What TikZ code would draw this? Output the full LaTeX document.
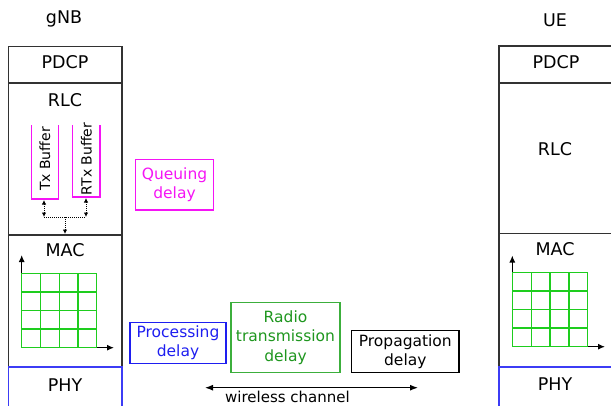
\documentclass[tikz,border=0pt]{standalone}
\usepackage{fontspec}
\setmainfont{DejaVu Sans}
\usetikzlibrary{arrows.meta}
\definecolor{stackgray}{RGB}{50,50,50}
\definecolor{phyblue}{RGB}{60,60,245}
\definecolor{procblue}{RGB}{30,30,240}
\definecolor{mag}{RGB}{245,20,245}
\definecolor{gridgreen}{RGB}{30,205,30}
\definecolor{radiogreen}{RGB}{60,175,60}
\definecolor{radiotext}{RGB}{30,150,30}
\tikzset{
  layerbox/.style={draw=stackgray, line width=1.4pt},
  phybox/.style={draw=phyblue, line width=1.4pt},
  lbl/.style={font=\fontsize{17.5}{20}\selectfont, anchor=base, inner sep=0pt},
  dlbox/.style={line width=1.3pt, align=center, inner sep=0pt, font=\fontsize{15.5}{19.5}\selectfont},
  buf/.style={draw=mag, line width=1.3pt},
  buftext/.style={font=\fontsize{14}{16}\selectfont, rotate=90, inner sep=0pt},
  dotarrow/.style={densely dotted, line width=1pt, {Latex[length=4.5pt,width=4.5pt]}-{Latex[length=4.5pt,width=4.5pt]}},
  axisarrow/.style={line width=1.2pt, -{Latex[length=7pt,width=6pt]}},
  gridline/.style={draw=gridgreen, line width=1.3pt},
}
\begin{document}
\begin{tikzpicture}[x=1pt,y=-1pt]
\useasboundingbox (0,0) rectangle (611,405);
\clip (0,0) rectangle (611,405);
% ---------- gNB stack ----------
\node[lbl] (gnb) at (64,23.3) {gNB};
\draw[layerbox] (8.3,46.5) rectangle (122,83);
\draw[layerbox] (8.3,83) rectangle (122,235);
\draw[layerbox] (8.3,235) rectangle (122,367);
\draw[phybox] (8.3,367) rectangle (122,412);
\node[lbl] (gpdcp) at (65,68.3) {PDCP};
\node[lbl] (grlc) at (65,106) {RLC};
\node[lbl] (gmac) at (65,256) {MAC};
\node[lbl] (gphy) at (65,391.5) {PHY};
% buffers
\draw[buf] (31.7,125) -- (31.7,199) -- (58.3,199) -- (58.3,125);
\draw[buf] (72.7,125) -- (72.7,197) -- (100,197) -- (100,125);
\node[buftext] (txb) at (45,159) {Tx Buffer};
\node[buftext] (rtxb) at (86.3,159) {RTx Buffer};
\coordinate (txbot) at (44,200);
\coordinate (rtxbot) at (86,198);
\coordinate (txj) at (44,217);
\coordinate (rtxj) at (86,217);
\coordinate (midj) at (65,217);
\coordinate (macin) at (65,234);
\draw[dotarrow] (txbot) -- (txj);
\draw[dotarrow] (rtxbot) -- (rtxj);
\draw[densely dotted, line width=1pt] (txj) -- (rtxj);
\draw[densely dotted, line width=1pt, -{Latex[length=4.5pt,width=4.5pt]}] (midj) -- (macin);
% gNB grid
\coordinate (go) at (21.7,347.7);
\coordinate (gy) at (21.7,255);
\coordinate (gx) at (114,347.7);
\draw[axisarrow] (go) -- (gy);
\draw[axisarrow] (go) -- (gx);
\foreach \i in {0,...,4} {
  \draw[gridline] (21.7+\i*18.75,273.3) -- (21.7+\i*18.75,347.7);
  \draw[gridline] (21.7,273.3+\i*18.6) -- (96.7,273.3+\i*18.6);
}
% ---------- UE stack ----------
\node[lbl] (ue) at (555,26) {UE};
\draw[layerbox] (499,46) rectangle (614,83);
\draw[layerbox] (499,83) rectangle (614,233.5);
\draw[layerbox] (499,233.5) rectangle (614,367);
\draw[phybox] (499,367) rectangle (614,412);
\node[lbl] (updcp) at (556,68.3) {PDCP};
\node[lbl] (urlc) at (555,155) {RLC};
\node[lbl] (umac) at (555,255) {MAC};
\node[lbl] (uphy) at (555,390) {PHY};
\coordinate (uo) at (512.3,346.7);
\coordinate (uy) at (512.3,255.5);
\coordinate (ux) at (605,346.7);
\draw[axisarrow] (uo) -- (uy);
\draw[axisarrow] (uo) -- (ux);
\foreach \i in {0,...,4} {
  \draw[gridline] (512.3+\i*18.85,272.3) -- (512.3+\i*18.85,346.7);
  \draw[gridline] (512.3,272.3+\i*18.6) -- (587.7,272.3+\i*18.6);
}
% ---------- delay boxes ----------
\node[dlbox, draw=mag, text=mag, minimum width=77.6pt, minimum height=50.7pt] (queue) at (174.5,184.7) {Queuing\\delay};
\node[dlbox, draw=procblue, text=procblue, minimum width=96pt, minimum height=41pt] (proc) at (178,342.8) {Processing\\delay};
\node[dlbox, draw=radiogreen, text=radiotext, minimum width=109pt, minimum height=70pt] (radio) at (285.5,337.7) {Radio\\transmission\\delay};
\node[dlbox, draw=black, text=black, minimum width=107.3pt, minimum height=41.6pt] (prop) at (405.3,351.5) {Propagation\\delay};
% ---------- wireless channel ----------
\coordinate (wl) at (205,387.7);
\coordinate (wr) at (418,387.7);
\draw[line width=1.2pt, {Latex[length=8pt,width=6pt]}-{Latex[length=8pt,width=6pt]}] (wl) -- (wr);
\node[font=\fontsize{15}{17}\selectfont, anchor=base, inner sep=0pt] (wc) at (287.5,402.7) {wireless channel};
\end{tikzpicture}
\end{document}
